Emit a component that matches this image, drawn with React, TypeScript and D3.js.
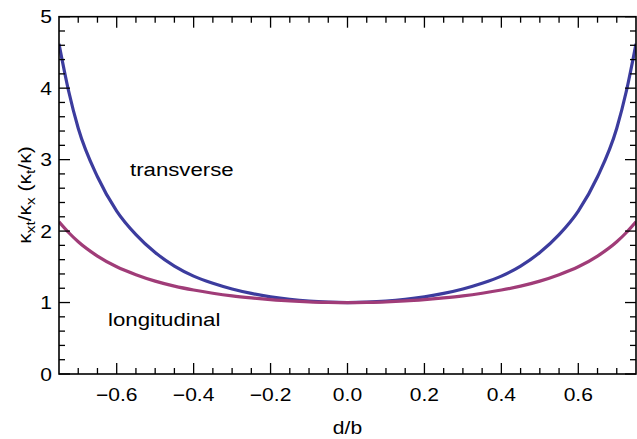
import React from "react";
import * as d3 from "d3";

const dPositions = [
  -0.75, -0.725, -0.7, -0.65, -0.6, -0.55, -0.5, -0.45, -0.4, -0.35, -0.3, -0.25, -0.2, -0.15, -0.1, -0.05,
  0,
  0.05, 0.1, 0.15, 0.2, 0.25, 0.3, 0.35, 0.4, 0.45, 0.5, 0.55, 0.6, 0.65, 0.7, 0.725, 0.75,
];
const transverse = [
  4.62, 3.96, 3.44, 2.76, 2.28, 1.95, 1.70, 1.51, 1.37, 1.27, 1.19, 1.128, 1.08, 1.044, 1.019, 1.005,
  1.0,
  1.005, 1.019, 1.044, 1.08, 1.128, 1.19, 1.27, 1.37, 1.51, 1.70, 1.95, 2.28, 2.76, 3.44, 3.96, 4.62,
];
const longitudinal = [
  2.13, 1.98, 1.85, 1.65, 1.50, 1.39, 1.30, 1.23, 1.175, 1.13, 1.093, 1.065, 1.042, 1.023, 1.01, 1.003,
  1.0,
  1.003, 1.01, 1.023, 1.042, 1.065, 1.093, 1.13, 1.175, 1.23, 1.30, 1.39, 1.50, 1.65, 1.85, 1.98, 2.13,
];
const xMajorTicks = [-0.6, -0.4, -0.2, 0, 0.2, 0.4, 0.6];
const xTickLabels = ["\u22120.6", "\u22120.4", "\u22120.2", "0.0", "0.2", "0.4", "0.6"];
const xMinorTicks = [-0.7, -0.65, -0.55, -0.5, -0.45, -0.35, -0.3, -0.25, -0.15, -0.1, -0.05, 0.05, 0.1, 0.15, 0.25, 0.3, 0.35, 0.45, 0.5, 0.55, 0.65, 0.7];
const yMajorTicks = [0, 1, 2, 3, 4, 5];
const yMinorTicks = [0.2, 0.4, 0.6, 0.8, 1.2, 1.4, 1.6, 1.8, 2.2, 2.4, 2.6, 2.8, 3.2, 3.4, 3.6, 3.8, 4.2, 4.4, 4.6, 4.8];

const W = 637;
const H = 439;
const left = 59;
const right = 636;
const top = 16.7;
const bottom = 374;
const SX = 1.17;
const FONT = "'Liberation Sans', Arial, Helvetica, sans-serif";
const BLUE = "#3c3c9e";
const MAGENTA = "#a03c78";

export default function App() {
  const x = d3.scaleLinear().domain([-0.75, 0.75]).range([left, right]);
  const y = d3.scaleLinear().domain([0, 5]).range([bottom, top]);
  const line = d3
    .line<number>()
    .x((_, i) => x(dPositions[i]))
    .y((v) => y(v))
    .curve(d3.curveMonotoneX);

  const majorLen = 11;
  const minorLen = 6;

  return (
    <svg
      width={W}
      height={H}
      style={{ position: "absolute", left: 0, top: 0, background: "#fff" }}
      fontFamily={FONT}
    >
      <rect x={0} y={0} width={W} height={H} fill="#fff" />
      <defs>
        <clipPath id="plotclip">
          <rect x={left} y={top} width={right - left} height={bottom - top} />
        </clipPath>
      </defs>
      <g clipPath="url(#plotclip)">
        <path d={line(transverse) || ""} fill="none" stroke={BLUE} strokeWidth={3.2} />
        <path d={line(longitudinal) || ""} fill="none" stroke={MAGENTA} strokeWidth={3.2} />
      </g>
      <g stroke="#000" strokeWidth={1.3}>
        {xMajorTicks.map((t) => (
          <g key={"xm" + t}>
            <line x1={x(t)} x2={x(t)} y1={bottom} y2={bottom - majorLen} />
            <line x1={x(t)} x2={x(t)} y1={top} y2={top + majorLen} />
          </g>
        ))}
        {xMinorTicks.map((t) => (
          <g key={"xn" + t}>
            <line x1={x(t)} x2={x(t)} y1={bottom} y2={bottom - minorLen} />
            <line x1={x(t)} x2={x(t)} y1={top} y2={top + minorLen} />
          </g>
        ))}
        {yMajorTicks.map((t) => (
          <g key={"ym" + t}>
            <line x1={left} x2={left + majorLen} y1={y(t)} y2={y(t)} />
            <line x1={right} x2={right - majorLen} y1={y(t)} y2={y(t)} />
          </g>
        ))}
        {yMinorTicks.map((t) => (
          <g key={"yn" + t}>
            <line x1={left} x2={left + minorLen} y1={y(t)} y2={y(t)} />
            <line x1={right} x2={right - minorLen} y1={y(t)} y2={y(t)} />
          </g>
        ))}
      </g>
      <rect
        x={left}
        y={top}
        width={right - left}
        height={bottom - top}
        fill="none"
        stroke="#000"
        strokeWidth={1.6}
      />
      {xMajorTicks.map((t, i) => (
        <text
          key={"xl" + t}
          transform={`translate(${x(t)},${bottom + 27}) scale(${SX},1)`}
          textAnchor="middle"
          fontSize={18}
          fill="#000"
        >
          {xTickLabels[i]}
        </text>
      ))}
      {yMajorTicks.map((t) => (
        <text
          key={"yl" + t}
          transform={`translate(${left - 7},${y(t) + 6.5}) scale(${SX},1)`}
          textAnchor="end"
          fontSize={18}
          fill="#000"
        >
          {String(t)}
        </text>
      ))}
      <text
        transform={`translate(${x(0)},${434}) scale(${SX},1)`}
        textAnchor="middle"
        fontSize={18}
        fill="#000"
      >
        d/b
      </text>
      <text
        transform={`translate(31,195) rotate(-90) scale(${SX},1)`}
        textAnchor="middle"
        fontSize={18}
        fill="#000"
      >
        <tspan>κ</tspan>
        <tspan dy={4} fontSize={13}>xt</tspan>
        <tspan dy={-4}>/κ</tspan>
        <tspan dy={4} fontSize={13}>x</tspan>
        <tspan dy={-4}> (κ</tspan>
        <tspan dy={4} fontSize={13}>t</tspan>
        <tspan dy={-4}>/κ)</tspan>
      </text>
      <text
        transform={`translate(130,176) scale(${SX},1)`}
        textAnchor="start"
        fontSize={19}
        fill="#000"
      >
        transverse
      </text>
      <text
        transform={`translate(108,326) scale(${SX},1)`}
        textAnchor="start"
        fontSize={19}
        fill="#000"
      >
        longitudinal
      </text>
    </svg>
  );
}
